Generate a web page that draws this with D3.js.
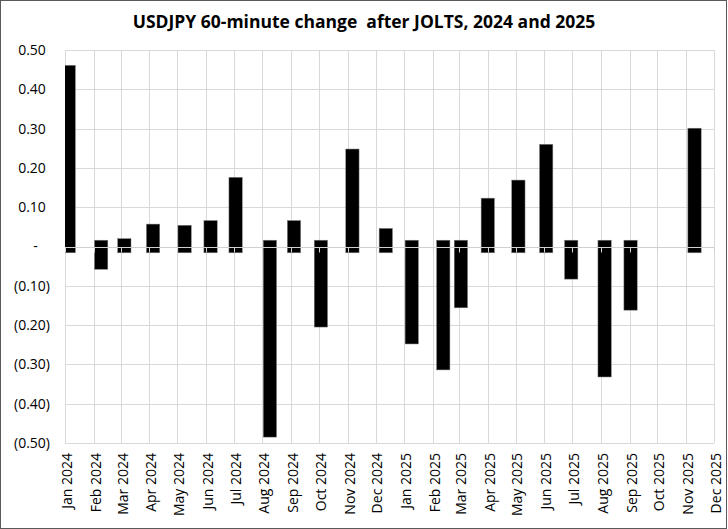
<!DOCTYPE html>
<html>
<head>
<meta charset="utf-8">
<script src="https://cdn.jsdelivr.net/npm/d3@7"></script>
<style>
  body { margin: 0; background: #fff; }
  svg { display: block; font-family: "Open Sans", sans-serif; }
</style>
</head>
<body>
<div id="chart"></div>
<script>
// Release dates and 60-minute USDJPY change after each JOLTS print
var releaseDates = ["2024-01-05", "2024-02-09", "2024-03-05", "2024-04-05", "2024-05-09",
  "2024-06-06", "2024-07-03", "2024-08-09", "2024-09-04", "2024-10-03", "2024-11-06",
  "2024-12-12", "2025-01-09", "2025-02-12", "2025-03-03", "2025-04-01", "2025-05-04",
  "2025-06-03", "2025-06-30", "2025-08-05", "2025-09-02", "2025-11-10"];
var changes = [0.461, -0.058, 0.020, 0.057, 0.054, 0.066, 0.176, -0.485, 0.066, -0.205,
  0.248, 0.046, -0.248, -0.314, -0.156, 0.123, 0.169, 0.260, -0.083, -0.332, -0.162, 0.301];

// Axis ticks
var yTicks = [0.5, 0.4, 0.3, 0.2, 0.1, 0, -0.1, -0.2, -0.3, -0.4, -0.5];
var axisStart = "2024-01-01";
var axisEnd = "2025-12-01";

var svgWidth = 728;
var svgHeight = 529;
var margin = { top: 50, right: 14, bottom: 86, left: 65 };
var chartWidth = svgWidth - margin.left - margin.right;
var chartHeight = svgHeight - margin.top - margin.bottom;

var parseDate = d3.timeParse("%Y-%m-%d");
var data = releaseDates.map((d, i) => ({ date: parseDate(d), value: changes[i] }));

var svg = d3.select("#chart")
  .append("svg")
  .attr("width", svgWidth)
  .attr("height", svgHeight);

// outer frame
svg.append("rect")
  .attr("x", 0.5).attr("y", 0.5)
  .attr("width", svgWidth - 2).attr("height", svgHeight - 1)
  .attr("fill", "#fff")
  .attr("stroke", "#595959");

svg.append("text")
  .attr("x", 364)
  .attr("y", 28)
  .attr("text-anchor", "middle")
  .attr("font-size", 17.5)
  .attr("font-weight", "bold")
  .attr("fill", "#000")
  .text("USDJPY 60-minute change  after JOLTS, 2024 and 2025")
  .style("white-space", "pre");

var chartGroup = svg.append("g")
  .attr("transform", `translate(${margin.left}, ${margin.top})`);

var xScale = d3.scaleTime()
  .domain([parseDate(axisStart), parseDate(axisEnd)])
  .range([0, chartWidth]);

var yScale = d3.scaleLinear()
  .domain([-0.5, 0.5])
  .range([chartHeight, 0]);

var months = d3.timeMonth.range(parseDate(axisStart), d3.timeDay.offset(parseDate(axisEnd), 1));

// gridlines
chartGroup.append("g")
  .selectAll("line.v")
  .data(months)
  .enter()
  .append("line")
  .attr("x1", d => Math.round(xScale(d)) + 0.5)
  .attr("x2", d => Math.round(xScale(d)) + 0.5)
  .attr("y1", 0)
  .attr("y2", chartHeight)
  .attr("stroke", "#d9d9d9");

chartGroup.append("g")
  .selectAll("line.h")
  .data(yTicks)
  .enter()
  .append("line")
  .attr("x1", 0)
  .attr("x2", chartWidth)
  .attr("y1", d => Math.round(yScale(d)) + 0.5)
  .attr("y2", d => Math.round(yScale(d)) + 0.5)
  .attr("stroke", "#d9d9d9");

// bars, each one runs a little past zero on the far side
var stub = 0.016;
var barWidth = 13.3;

chartGroup.append("clipPath")
  .attr("id", "plotClip")
  .append("rect")
  .attr("width", chartWidth)
  .attr("height", chartHeight);

chartGroup.append("g")
  .attr("clip-path", "url(#plotClip)")
  .selectAll("rect")
  .data(data)
  .enter()
  .append("rect")
  .attr("x", d => xScale(d.date) - barWidth / 2)
  .attr("width", barWidth)
  .attr("y", d => yScale(d.value > 0 ? d.value : stub))
  .attr("height", d => d.value > 0 ? yScale(-stub) - yScale(d.value) : yScale(d.value) - yScale(stub))
  .attr("fill", "#000")
  .attr("stroke", "#7f7f7f")
  .attr("stroke-width", 0.5);

// zero axis line and month tick marks drawn over the bars
var zeroY = Math.round(yScale(0)) + 0.5;
chartGroup.append("line")
  .attr("x1", 0).attr("x2", chartWidth)
  .attr("y1", zeroY).attr("y2", zeroY)
  .attr("stroke", "#d0d0d0");

chartGroup.append("g")
  .selectAll("line")
  .data(months)
  .enter()
  .append("line")
  .attr("x1", d => Math.round(xScale(d)) + 0.5)
  .attr("x2", d => Math.round(xScale(d)) + 0.5)
  .attr("y1", zeroY)
  .attr("y2", zeroY + 5)
  .attr("stroke", "#d0d0d0");

// y labels in accounting style
var yLabels = svg.append("g");
yTicks.forEach(function(v) {
  var t = yLabels.append("text")
    .attr("x", 50)
    .attr("y", margin.top + yScale(v))
    .attr("dy", "0.35em")
    .attr("text-anchor", "end")
    .attr("font-size", 14)
    .attr("fill", "#000");
  if (v > 0) {
    t.append("tspan").text(v.toFixed(2));
    t.append("tspan").attr("fill-opacity", 0).text(")");
  } else if (v === 0) {
    t.append("tspan").text("-");
    t.append("tspan").attr("fill-opacity", 0).text("0)");
  } else {
    t.text("(" + Math.abs(v).toFixed(2) + ")");
  }
});

// x labels, rotated
var fmt = d3.timeFormat("%b %Y");
svg.append("g")
  .selectAll("text")
  .data(months)
  .enter()
  .append("text")
  .attr("transform", d => `translate(${margin.left + xScale(d) + 2}, ${margin.top + chartHeight + 10}) rotate(-90)`)
  .attr("dy", "0.35em")
  .attr("text-anchor", "end")
  .attr("font-size", 14)
  .attr("fill", "#000")
  .text(d => fmt(d));
</script>
</body>
</html>
